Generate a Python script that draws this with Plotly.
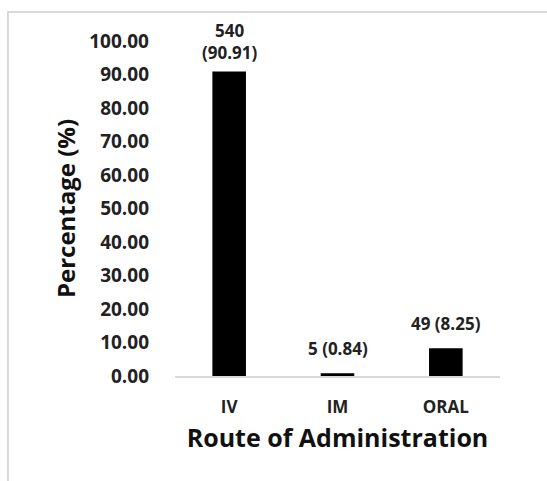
import plotly.graph_objects as go

routes = ["IV", "IM", "ORAL"]
counts = [540, 5, 49]
percentages = [90.91, 0.84, 8.25]
y_ticks = [0, 10, 20, 30, 40, 50, 60, 70, 80, 90, 100]

labels = []
for c, p in zip(counts, percentages):
    if c >= 100:
        labels.append(f"{c}<br>({p:.2f})")
    else:
        labels.append(f"{c} ({p:.2f})")

FONT = "Open Sans"

fig = go.Figure(
    go.Bar(
        x=routes,
        y=percentages,
        marker=dict(color="black", line=dict(width=0)),
        width=0.31,
        hoverinfo="x+y",
    )
)

# value labels sitting above each bar
for r, p, lab in zip(routes, percentages, labels):
    two_line = "<br>" in lab
    fig.add_annotation(
        x=r,
        y=p,
        text=lab,
        showarrow=False,
        yanchor="bottom",
        yshift=5 if two_line else 11,
        font=dict(family=FONT, size=17, color="#222222", weight="bold"),
    )

fig.update_layout(
    width=547,
    height=481,
    margin=dict(l=175, r=47, t=41, b=105),
    paper_bgcolor="white",
    plot_bgcolor="white",
    showlegend=False,
    font=dict(family=FONT, color="#222222"),
)

fig.update_yaxes(
    range=[0, 100],
    tickvals=y_ticks,
    ticktext=[f"{v:.2f}" for v in y_ticks],
    tickfont=dict(family=FONT, size=19, color="#222222", weight="bold"),
    showgrid=False,
    zeroline=False,
    showline=False,
    ticks="",
    ticklabelstandoff=25,
    title=dict(
        text="Percentage (%)",
        font=dict(family=FONT, size=24, color="#111111", weight="bold"),
        standoff=6,
    ),
)

fig.update_xaxes(
    showgrid=False,
    showline=True,
    linecolor="#d9d9d9",
    linewidth=1.5,
    ticks="",
    ticklabelstandoff=15,
    tickfont=dict(family=FONT, size=17, color="#222222", weight="bold"),
    title=dict(
        text="Route of Administration",
        font=dict(family=FONT, size=25, color="#111111", weight="bold"),
        standoff=12,
    ),
)

# light chart-area frame
fig.add_shape(
    type="rect",
    xref="paper",
    yref="paper",
    x0=-0.514,
    x1=2.0,
    y0=-1.0,
    y1=1.0866,
    line=dict(color="#d9d9d9", width=2),
    fillcolor="rgba(0,0,0,0)",
    layer="below",
)

fig.write_html("out.html")
